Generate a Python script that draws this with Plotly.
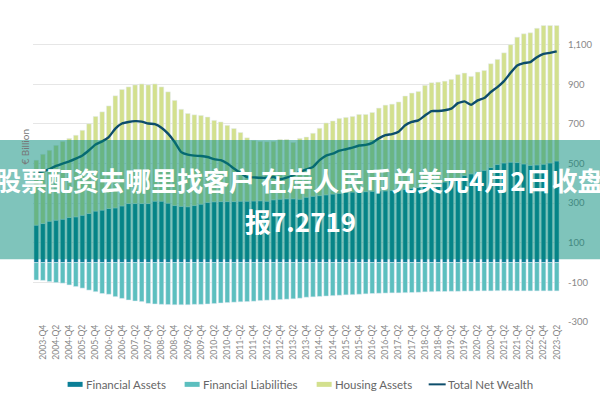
import plotly.graph_objects as go

quarters = [f"{y}-Q{q}" for y in range(2003, 2024) for q in (1, 2, 3, 4)][2:-2]
tick_labels = quarters[1::2]

financial_assets = [189,197,209,214,219,228,231,239,248,260,265,273,276,286,298,298,298,298,310,310,
                    300,288,284,282,288,295,304,307,308,308,308,310,310,311,312,310,317,320,322,322,
                    320,330,335,338,342,346,350,354,356,358,358,360,362,362,365,365,370,375,380,385,
                    390,398,407,415,428,440,448,458,466,480,495,503,507,505,498,491,493,497,503,513]
financial_liabilities = [-88,-90,-96,-101,-104,-113,-121,-129,-139,-147,-156,-160,-172,-181,-189,-194,-197,-206,-209,-211,
                         -212,-213,-213,-213,-211,-211,-209,-207,-204,-202,-200,-198,-197,-195,-192,-190,-189,-187,-185,-183,
                         -180,-175,-173,-171,-169,-167,-165,-163,-162,-160,-158,-156,-155,-154,-153,-153,-152,-151,-150,-148,
                         -147,-146,-146,-145,-145,-144,-144,-143,-143,-143,-142,-142,-142,-143,-143,-143,-143,-143,-143,-143]
housing_assets = [328,350,358,378,393,399,412,429,453,478,496,518,566,588,589,599,604,599,592,577,
                  562,531,490,471,458,448,431,411,402,385,369,347,320,306,300,300,295,302,300,285,
                  307,304,318,340,363,369,378,379,382,390,390,398,418,433,435,446,471,481,484,510,
                  518,513,509,510,521,517,492,504,504,524,531,556,593,633,657,669,690,700,694,684]
net_wealth = [456,461,472,488,500,511,525,541,567,596,612,634,676,702,710,714,712,702,699,681,
              651,609,558,545,540,538,533,522,517,500,475,453,432,430,428,428,432,421,429,441,
              458,470,483,517,540,550,565,572,580,591,594,604,627,643,649,661,693,710,718,743,
              765,765,769,777,805,814,797,819,831,861,886,916,958,995,1007,1012,1037,1054,1059,1066]
y_ticks = [-300,-100,100,300,500,700,900,1100]
y_tick_text = ["-300","-100","100","300","500","700","900","1,100"]
legend_names = ["Financial Assets", "Financial Liabilities", "Housing Assets", "Total Net Wealth"]

C_ASSETS, C_LIAB, C_HOUSE, C_NET = "#0b7f97", "#5cbfbf", "#d3e08e", "#0d4d6b"
W, H = 600, 400
L, R, T, B = 33.4, 560.3, 14.8, 322.5
px = lambda v: (v - L) / (R - L)
py = lambda v: (B - v) / (B - T)

fig = go.Figure()
fig.add_bar(x=quarters, y=financial_assets, marker_color=C_ASSETS, name=legend_names[0])
fig.add_bar(x=quarters, y=financial_liabilities, marker_color=C_LIAB, name=legend_names[1])
fig.add_bar(x=quarters, y=housing_assets, marker_color=C_HOUSE, name=legend_names[2])
fig.add_scatter(x=quarters, y=net_wealth, mode="lines", name=legend_names[3],
                line=dict(color=C_NET, width=2.4, shape="spline", smoothing=0.4))

shapes = [dict(type="rect", xref="paper", yref="paper", x0=px(-5), x1=px(605), y0=py(259.5), y1=py(140),
               fillcolor="rgba(0,137,120,0.5)", line_width=0, layer="above")]
annotations = [
    dict(text="€ Billion", xref="paper", yref="paper", x=px(17), y=py(147), textangle=-90, showarrow=False,
         font=dict(size=10, color="#777777")),
    dict(text="<b>股票配资去哪里找客户 在岸人民币兑美元4月2日收盘</b>", xref="paper", yref="paper", x=px(300), y=py(180),
         xanchor="center", yanchor="middle", showarrow=False,
         font=dict(family="Noto Sans CJK SC", size=26, color="white")),
    dict(text="<b>报7.2719</b>", xref="paper", yref="paper", x=px(301), y=py(221),
         xanchor="center", yanchor="middle", showarrow=False,
         font=dict(family="Noto Sans CJK SC", size=26, color="white")),
]
# legend drawn with swatches and labels at the reference's positions
for name, col, x0, x1, tx, hgt in [
    (legend_names[0], C_ASSETS, 68, 83, 86, 5),
    (legend_names[1], C_LIAB, 185, 200, 203, 5),
    (legend_names[2], C_HOUSE, 317, 332, 335, 5),
    (legend_names[3], C_NET, 429, 446, 448, 2),
]:
    shapes.append(dict(type="rect", xref="paper", yref="paper", x0=px(x0), x1=px(x1), y0=py(385 + hgt / 2), y1=py(385 - hgt / 2),
                       fillcolor=col, line_width=0))
    annotations.append(dict(text=name, xref="paper", yref="paper", x=px(tx), y=py(385), xanchor="left", yanchor="middle",
                            showarrow=False, xshift=-2, font=dict(size=11.5, color="#666666")))

fig.update_layout(
    width=W, height=H, barmode="relative", bargap=0.29, showlegend=False,
    paper_bgcolor="white", plot_bgcolor="white",
    margin=dict(l=L, r=W - R, t=T, b=H - B, pad=0, autoexpand=False),
    font=dict(family="Lato", color="#777777"),
    xaxis=dict(type="category", range=[-0.5, 79.5], tickmode="array", tickvals=tick_labels, ticktext=tick_labels,
               tickangle=-90, tickfont=dict(size=8.6, color="#888888"), showgrid=False, zeroline=False, showline=False, ticks=""),
    yaxis=dict(side="right", range=[-300, 1250], tickmode="array", tickvals=y_ticks, ticktext=y_tick_text,
               tickfont=dict(size=9.5, color="#888888"), gridcolor="#e6e6e6", gridwidth=1, zeroline=False, showline=False,
               ticks="outside", ticklen=5, tickcolor="rgba(0,0,0,0)"),
    shapes=shapes, annotations=annotations,
)
fig.write_html("out.html", config={"displayModeBar": False},
               post_script="document.body.style.margin='0';document.documentElement.style.overflow='hidden';")
